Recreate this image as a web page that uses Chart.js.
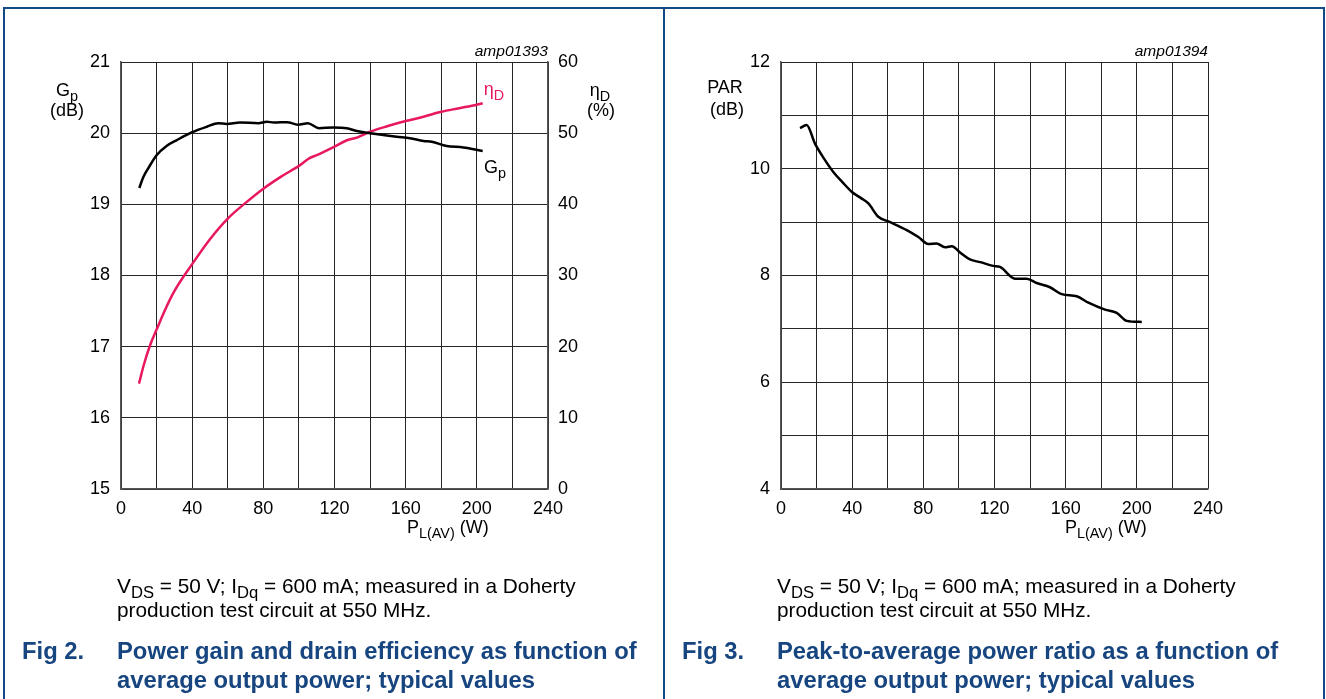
<!DOCTYPE html>
<html>
<head>
<meta charset="utf-8">
<script src="https://cdn.jsdelivr.net/npm/chart.js@4.4.1/dist/chart.umd.min.js"></script>
<style>
html,body{margin:0;padding:0;background:#fff;}
body{width:1326px;height:699px;position:relative;overflow:hidden;font-family:"Liberation Sans",Arial,sans-serif;}
.wrap{position:absolute;top:0;width:663px;height:699px;}
.t{position:absolute;white-space:nowrap;color:#000;font-size:18px;line-height:1;transform:translateY(-50%);}
.t sub{font-size:0.8em;vertical-align:-0.35em;line-height:0;}
.c{transform:translate(-50%,-50%);}
.it{font-style:italic;font-size:15.5px;}
.pink{color:#e8185c;}
.body{font-size:20.8px;}
.fig{font-size:23.8px;font-weight:bold;color:#17457f;}
.line{position:absolute;background:#124a85;}
</style>
</head>
<body>
<div class="line" style="left:4px;top:7px;width:1321px;height:2px;"></div>
<div class="line" style="left:3px;top:7px;width:2px;height:692px;"></div>
<div class="line" style="left:663px;top:7px;width:2px;height:692px;"></div>
<div class="line" style="left:1323px;top:7px;width:2px;height:692px;"></div>

<div class="wrap" style="left:0"><canvas id="c1"></canvas></div>
<div class="wrap" style="left:663px"><canvas id="c2"></canvas></div>

<!-- left chart texts -->
<div class="t c" style="left:67px;top:90px;">G<sub>p</sub></div>
<div class="t c" style="left:67px;top:110px;">(dB)</div>
<div class="t c" style="left:600px;top:90px;">η<sub>D</sub></div>
<div class="t c" style="left:601px;top:110px;">(%)</div>
<div class="t c pink" style="left:494px;top:89px;">η<sub>D</sub></div>
<div class="t c" style="left:495px;top:167px;">G<sub>p</sub></div>
<div class="t it" style="right:778px;top:51px;">amp01393</div>
<div class="t" style="left:407px;top:527px;">P<sub>L(AV)</sub> (W)</div>

<!-- right chart texts -->
<div class="t c" style="left:725px;top:87px;">PAR</div>
<div class="t c" style="left:727px;top:109px;">(dB)</div>
<div class="t it" style="right:118px;top:51px;">amp01394</div>
<div class="t" style="left:1065px;top:527px;">P<sub>L(AV)</sub> (W)</div>

<!-- captions -->
<div class="t body" style="left:117px;top:586px;">V<sub>DS</sub> = 50 V; I<sub>Dq</sub> = 600 mA; measured in a Doherty</div>
<div class="t body" style="left:117px;top:610px;">production test circuit at 550 MHz.</div>
<div class="t fig" style="left:22px;top:651px;">Fig 2.</div>
<div class="t fig" style="left:117px;top:651px;">Power gain and drain efficiency as function of</div>
<div class="t fig" style="left:117px;top:680px;">average output power; typical values</div>

<div class="t body" style="left:777px;top:586px;">V<sub>DS</sub> = 50 V; I<sub>Dq</sub> = 600 mA; measured in a Doherty</div>
<div class="t body" style="left:777px;top:610px;">production test circuit at 550 MHz.</div>
<div class="t fig" style="left:682px;top:651px;">Fig 3.</div>
<div class="t fig" style="left:777px;top:651px;">Peak-to-average power ratio as a function of</div>
<div class="t fig" style="left:777px;top:680px;">average output power; typical values</div>

<script>
// ---- data ----
const xTicksLabelled = [0, 40, 80, 120, 160, 200, 240];

const gpPower = [10.3, 12.5, 15.4, 20, 25.6, 31.2, 39.7, 48.2, 54.7, 59.4, 66.9, 77.2, 81.9, 86, 93.3, 99.5, 105, 111.4, 119.3, 126.9, 132.5, 140, 147.4, 155, 162.4, 170, 174.7, 183, 192.4, 203.3];
const gpValues = [19.23, 19.38, 19.51, 19.69, 19.82, 19.90, 20.01, 20.09, 20.14, 20.13, 20.15, 20.14, 20.16, 20.15, 20.155, 20.12, 20.14, 20.07, 20.08, 20.07, 20.03, 20.00, 19.975, 19.95, 19.93, 19.89, 19.88, 19.82, 19.80, 19.75];

const etaPower = [10.1, 13, 16.5, 20, 25, 30, 40, 50, 60, 70, 80, 90, 100, 106, 110, 120, 127, 133, 140, 150, 160, 170, 180, 190, 200, 203.3];
const etaValues = [14.8, 17.6, 20.3, 22.4, 25.3, 27.8, 31.6, 35.1, 38.0, 40.2, 42.2, 43.9, 45.4, 46.5, 46.9, 48.1, 49.0, 49.4, 50.2, 51.0, 51.7, 52.3, 53.0, 53.5, 54.0, 54.2];

const parPower = [10.7, 14.4, 19.1, 24, 29.4, 34.5, 39.7, 45, 49.1, 54.7, 61.3, 70.7, 77.2, 82.8, 87.5, 92.2, 96, 101, 106.2, 112, 119.3, 123.1, 131.5, 138.1, 143.7, 151.2, 157.8, 166.2, 172.8, 182.1, 188.7, 194.3, 202.8];
const parValues = [10.76, 10.82, 10.47, 10.2, 9.94, 9.75, 9.57, 9.45, 9.35, 9.10, 9.00, 8.85, 8.72, 8.59, 8.60, 8.53, 8.55, 8.42, 8.30, 8.25, 8.18, 8.16, 7.94, 7.94, 7.86, 7.78, 7.65, 7.61, 7.49, 7.36, 7.30, 7.15, 7.13];

const toXY = (xs, ys) => xs.map((x, i) => ({x: x, y: ys[i]}));

Chart.defaults.font.family = '"Liberation Sans", Arial, sans-serif';
Chart.defaults.font.size = 18;
Chart.defaults.color = '#000';

const gridColor = '#262626';
const xScale = {
  type: 'linear', min: 0, max: 240,
  ticks: {stepSize: 20, autoSkip: false, maxRotation: 0, padding: 9,
    callback: v => xTicksLabelled.includes(v) ? String(v) : ''},
  grid: {color: gridColor, lineWidth: 1, drawTicks: false},
  border: {color: '#555', width: 1.5},
  afterFit(s) { s.height = 210; }
};

const lineStyle = {borderWidth: 2.5, pointRadius: 0, cubicInterpolationMode: 'monotone'};

new Chart(document.getElementById('c1'), {
  type: 'line',
  data: {datasets: [
    Object.assign({data: toXY(gpPower, gpValues), yAxisID: 'y', borderColor: '#000'}, lineStyle),
    Object.assign({data: toXY(etaPower, etaValues), yAxisID: 'y1', borderColor: '#e8185c'}, lineStyle)
  ]},
  options: {
    responsive: true, maintainAspectRatio: false, animation: false,
    layout: {padding: {top: 62, left: 0, right: 0, bottom: 0}},
    plugins: {legend: {display: false}, tooltip: {enabled: false}},
    scales: {
      x: xScale,
      y: {position: 'left', min: 15, max: 21,
        ticks: {stepSize: 1, padding: 11},
        grid: {color: gridColor, lineWidth: 1, drawTicks: false},
        border: {color: '#555', width: 1.5},
        afterFit(s) { s.width = 121; }},
      y1: {position: 'right', min: 0, max: 60,
        ticks: {stepSize: 10, padding: 10},
        grid: {display: false, drawTicks: false},
        border: {color: '#555', width: 1.5},
        afterFit(s) { s.width = 115; }}
    }
  }
});

new Chart(document.getElementById('c2'), {
  type: 'line',
  data: {datasets: [
    Object.assign({data: toXY(parPower, parValues), borderColor: '#000'}, lineStyle)
  ]},
  options: {
    responsive: true, maintainAspectRatio: false, animation: false,
    layout: {padding: {top: 62, left: 0, right: 118, bottom: 0}},
    plugins: {legend: {display: false}, tooltip: {enabled: false}},
    scales: {
      x: Object.assign({}, xScale),
      y: {position: 'left', min: 4, max: 12,
        ticks: {stepSize: 1, padding: 11, callback: v => (v % 2 === 0 ? String(v) : '')},
        grid: {color: gridColor, lineWidth: 1, drawTicks: false},
        border: {color: '#555', width: 1.5},
        afterFit(s) { s.width = 118; }}
    }
  }
});
</script>
</body>
</html>
